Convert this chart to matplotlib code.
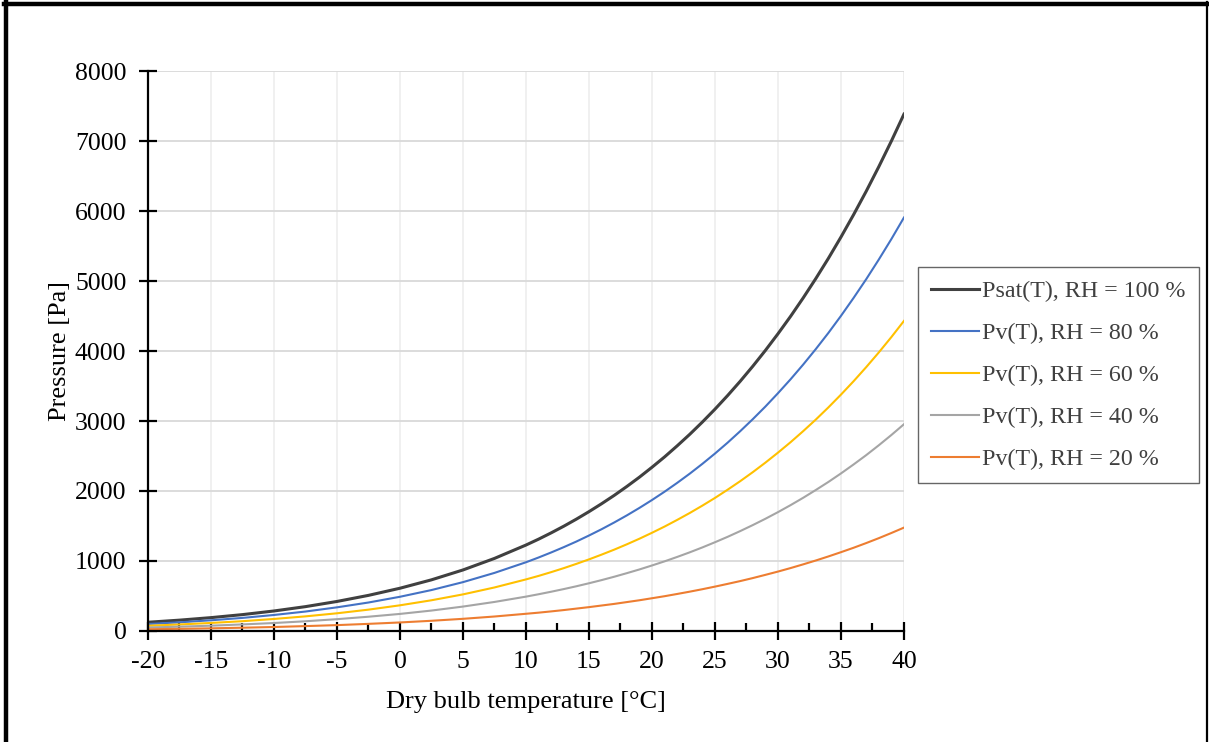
import matplotlib
matplotlib.use("Agg")
import matplotlib.pyplot as plt
from matplotlib.lines import Line2D
from matplotlib.ticker import MultipleLocator

plt.rcParams["font.family"] = ["Liberation Serif", "DejaVu Serif"]

# Dry bulb temperature [°C]
temps = [-20, -17.5, -15, -12.5, -10, -7.5, -5, -2.5, 0, 2.5, 5, 7.5, 10,
         11, 12, 13, 14, 15, 16, 17, 18, 19, 20, 21, 22, 23, 24, 25,
         26, 27, 28, 29, 30, 31, 32, 33, 34, 35, 36, 37, 38, 39, 40]

# Pressures [Pa]
p_rh100 = [125, 155, 191, 234, 286, 348, 422, 509, 611, 731, 872, 1037, 1228,
           1312, 1402, 1497, 1598, 1705, 1818, 1937, 2064, 2197, 2339, 2487, 2645,
           2810, 2985, 3169, 3363, 3567, 3782, 4008, 4246, 4495, 4758, 5034, 5323,
           5628, 5947, 6281, 6632, 6999, 7384]
p_rh80 = [100, 124, 153, 187, 229, 278, 338, 407, 489, 585, 698, 830, 982,
          1050, 1122, 1198, 1278, 1364, 1454, 1550, 1651, 1758, 1871, 1990, 2116,
          2248, 2388, 2535, 2690, 2854, 3026, 3206, 3397, 3596, 3806, 4027, 4258,
          4502, 4758, 5025, 5306, 5599, 5907]
p_rh60 = [75, 93, 115, 140, 172, 209, 253, 305, 367, 439, 523, 622, 737,
          787, 841, 898, 959, 1023, 1091, 1162, 1238, 1318, 1403, 1492, 1587,
          1686, 1791, 1901, 2018, 2140, 2269, 2405, 2548, 2697, 2855, 3020, 3194,
          3377, 3568, 3769, 3979, 4199, 4430]
p_rh40 = [50, 62, 76, 94, 114, 139, 169, 204, 244, 292, 349, 415, 491,
          525, 561, 599, 639, 682, 727, 775, 826, 879, 936, 995, 1058,
          1124, 1194, 1268, 1345, 1427, 1513, 1603, 1698, 1798, 1903, 2014, 2129,
          2251, 2379, 2512, 2653, 2800, 2954]
p_rh20 = [25, 31, 38, 47, 57, 70, 84, 102, 122, 146, 174, 207, 246,
          262, 280, 299, 320, 341, 364, 387, 413, 439, 468, 497, 529,
          562, 597, 634, 673, 713, 756, 802, 849, 899, 952, 1007, 1065,
          1126, 1189, 1256, 1326, 1400, 1477]

labels = ["Psat(T), RH = 100 %", "Pv(T), RH = 80 %", "Pv(T), RH = 60 %",
          "Pv(T), RH = 40 %", "Pv(T), RH = 20 %"]
colors = ["#404040", "#4472C4", "#FFC000", "#A5A5A5", "#ED7D31"]
widths = [2.2, 1.5, 1.5, 1.5, 1.5]

fig = plt.figure(figsize=(12.09, 7.42), dpi=100)
ax = fig.add_axes([0.1224, 0.1496, 0.6253, 0.7547])

series = [p_rh100, p_rh80, p_rh60, p_rh40, p_rh20]
for vals, lab, col, lw in zip(series, labels, colors, widths):
    ax.plot(temps, vals, color=col, lw=lw, label=lab)

ax.set_xlim(-20, 40)
ax.set_ylim(0, 8000)
ax.xaxis.set_major_locator(MultipleLocator(5))
ax.xaxis.set_minor_locator(MultipleLocator(2.5))
ax.yaxis.set_major_locator(MultipleLocator(1000))

ax.grid(axis="y", color="#d9d9d9", lw=1.3)
ax.grid(axis="x", color="#efefef", lw=1.3)
ax.set_axisbelow(True)

for side in ["top", "right"]:
    ax.spines[side].set_visible(False)
ax.axvline(40, color="#d9d9d9", lw=1.3, zorder=0)
for side in ["left", "bottom"]:
    ax.spines[side].set_linewidth(1.6)
    ax.spines[side].set_color("black")

ax.tick_params(axis="both", which="major", direction="inout", length=13,
               width=1.6, labelsize=18.5, colors="black")
ax.tick_params(axis="x", which="major", pad=8)
ax.tick_params(axis="y", which="major", pad=9)
ax.tick_params(axis="x", which="minor", direction="in", length=6, width=1.6)
ax.set_xticklabels([f"{int(t)}" for t in ax.get_xticks()])

ax.set_xlabel("Dry bulb temperature [°C]", fontsize=19, labelpad=13)
ax.set_ylabel("Pressure [Pa]", fontsize=19, labelpad=3)

leg = ax.legend(loc="upper left", bbox_to_anchor=(918 / 1209, 1 - 267 / 742),
                bbox_transform=fig.transFigure, fontsize=17.3, frameon=True,
                fancybox=False, edgecolor="#404040", handlelength=2.0,
                handletextpad=0.12, labelspacing=0.84, borderpad=0.55,
                borderaxespad=0)
leg.get_frame().set_linewidth(1.0)
for txt in leg.get_texts():
    txt.set_color("#404040")

# chart frame
fig.add_artist(Line2D([6 / 1209, 6 / 1209], [0, 1 - 2 / 742], color="black", lw=3.2))
fig.add_artist(Line2D([4 / 1209, 1], [1 - 4 / 742, 1 - 4 / 742], color="black", lw=3.2))
fig.add_artist(Line2D([1207 / 1209, 1207 / 1209], [0, 1 - 2 / 742], color="black", lw=1.6))

fig.savefig("out.png", dpi=100)
